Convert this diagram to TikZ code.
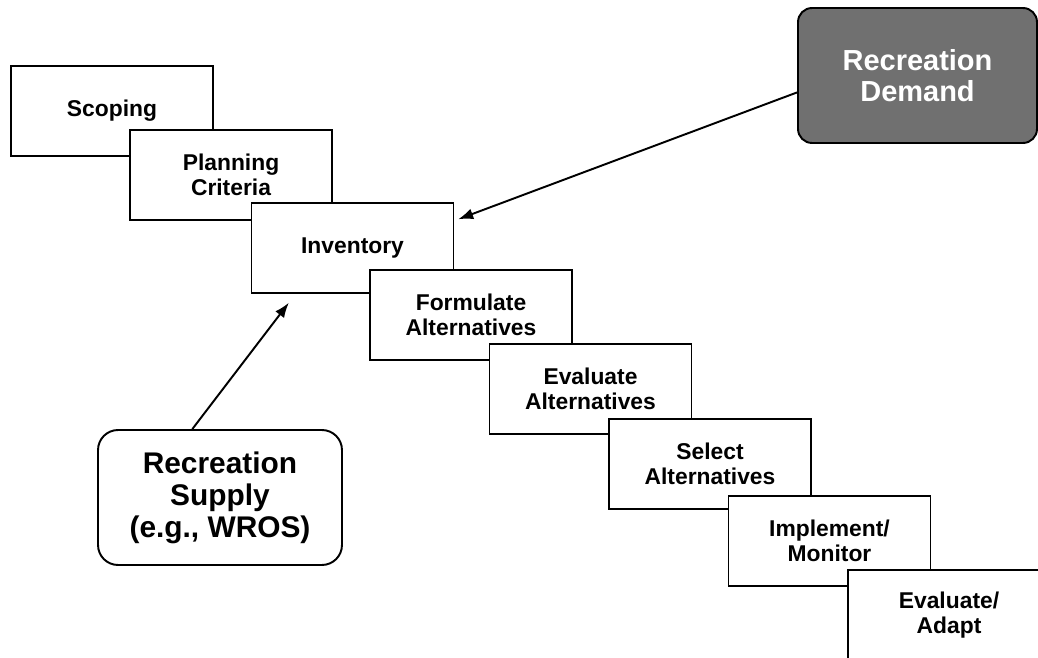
\documentclass[tikz,border=0pt]{standalone}
\usepackage{fontspec}
\setmainfont{Liberation Sans}
\usepackage{xcolor}
\usetikzlibrary{arrows.meta}

\definecolor{demgray}{HTML}{707070}
\tikzset{
  stepbox/.style={draw, line width=1.1pt, fill=white, align=center,
    minimum width=4.04cm, minimum height=1.8cm,
    font=\fontsize{13}{14.5}\selectfont\bfseries},
  demandbox/.style={draw, line width=1.1pt, rounded corners=0.28cm,
    fill=demgray, text=white, align=center,
    minimum width=4.78cm, minimum height=2.7cm,
    font=\fontsize{16.5}{17.8}\selectfont\bfseries},
  supplybox/.style={draw, line width=1.1pt, rounded corners=0.4cm,
    fill=white, align=center,
    minimum width=4.88cm, minimum height=2.7cm,
    font=\fontsize{17}{18.3}\selectfont\bfseries},
  feed/.style={-{Latex[length=3mm,width=2.2mm]}, line width=1.1pt}
}

\begin{document}
\begin{tikzpicture}[x=0.02cm, y=-0.02cm]
    \path[use as bounding box, clip] (0,0) rectangle (1038,658);

    % planning steps, each one drawn over the one before
    \foreach \n/\x/\y/\t in {scope/112/111/Scoping,
        crit/231/175/{Planning\\Criteria},
        inv/352.5/248/Inventory,
        form/471/315/{Formulate\\Alternatives},
        evalt/590.5/389/{Evaluate\\Alternatives},
        sel/710/464/{Select\\Alternatives},
        impl/829.5/541/{Implement/\\Monitor},
        adapt/949/615/{Evaluate/\\Adapt}}
      \node[stepbox] (\n) at (\x,\y) {\t};

    \node[demandbox] (dem) at (917.5,75.5) {Recreation\\Demand};
    \node[supplybox] (sup) at (220,497.5) {Recreation\\Supply\\(e.g., WROS)};

    \draw[feed, shorten >=0.08cm] (dem.188) -- (inv.15);
    \draw[feed, shorten >=0.22cm] (sup.112) -- ([xshift=0.9cm]inv.south west);
\end{tikzpicture}
\end{document}
